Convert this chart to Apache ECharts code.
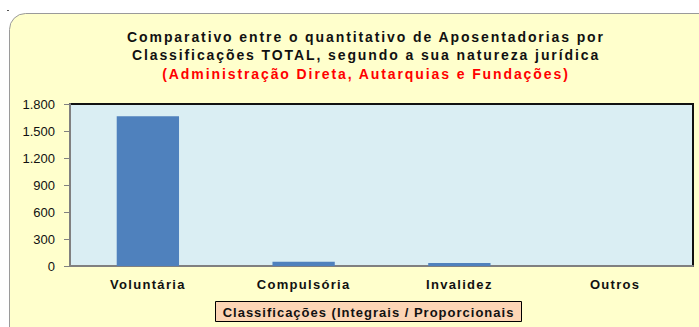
<!DOCTYPE html>
<html><head><meta charset="utf-8">
<script src="https://cdn.jsdelivr.net/npm/echarts@6/dist/echarts.min.js"></script>
<style>
html,body{margin:0;padding:0;background:#fff;}
#c{width:699px;height:327px;}
#c text[style*="bold"]{letter-spacing:1.3px;}
#c text[style*="14px"]{letter-spacing:1.9px;}
#c text[style*="13.01px"]{letter-spacing:1.0px;}
</style>
</head><body><div id="c"></div>
<script>
const categories = ['Voluntária', 'Compulsória', 'Invalidez', 'Outros'];
const values = [1665, 48, 33, 0];
const yTicks = [0, 300, 600, 900, 1200, 1500, 1800];
const titleLines = ['Comparativo entre o quantitativo de Aposentadorias por', 'Classificações TOTAL, segundo a sua natureza jurídica', '(Administração Direta, Autarquias e Fundações)'];
const axisTitle = 'Classificações (Integrais / Proporcionais';

const FONT = '"Liberation Sans", Arial, sans-serif';
const fmt = v => String(v).replace(/\B(?=(\d{3})+(?!\d))/g, '.');
const chart = echarts.init(document.getElementById('c'), null, {renderer: 'svg'});
const titleY = [36.5, 55, 73.5];
const titleColors = ['#111', '#111', '#FF0000'];
chart.setOption({
  animation: false,
  backgroundColor: '#fff',
  graphic: [
    {type: 'rect', z: -10, shape: {x: 9.5, y: 13.5, width: 720, height: 340, r: [16, 0, 0, 0]}, style: {fill: '#FFFFCC', stroke: '#9A9A9A', lineWidth: 1}},
    {type: 'rect', z: -10, shape: {x: 7, y: 10, width: 2, height: 1}, style: {fill: '#555'}},
    {type: 'rect', z: 10, shape: {x: 215.5, y: 301.5, width: 306, height: 20}, style: {fill: '#FCD5B5', stroke: '#000', lineWidth: 1}},
    {type: 'text', z: 11, x: 368.5, y: 312, style: {text: axisTitle, font: 'bold 13.01px ' + FONT, fill: '#111', align: 'center', verticalAlign: 'middle'}}
  ].concat(titleLines.map((t, i) => ({
    type: 'text', z: 11, x: 366, y: titleY[i],
    style: {text: t, font: 'bold 14px ' + FONT, fill: titleColors[i], align: 'center', verticalAlign: 'middle'}
  }))),
  grid: {left: 70, right: 6, top: 104, bottom: 61, show: true, backgroundColor: '#DAEEF3', borderColor: '#111', borderWidth: 2},
  xAxis: {
    type: 'category', data: categories,
    axisLine: {lineStyle: {color: '#808080', width: 2}},
    axisTick: {show: false},
    axisLabel: {margin: 12, color: '#111', fontFamily: FONT, fontWeight: 'bold', fontSize: 13}
  },
  yAxis: {
    type: 'value', min: 0, max: 1800, interval: 300,
    axisLine: {show: true, lineStyle: {color: '#808080', width: 2}},
    axisTick: {show: true, length: 6, lineStyle: {color: '#808080', width: 1}},
    splitLine: {show: false},
    axisLabel: {margin: 15, color: '#111', fontFamily: FONT, fontSize: 13, formatter: v => yTicks.includes(v) ? fmt(v) : ''}
  },
  series: [{type: 'bar', data: values, barWidth: '40%', itemStyle: {color: '#4F81BD'}}]
});
</script></body></html>
